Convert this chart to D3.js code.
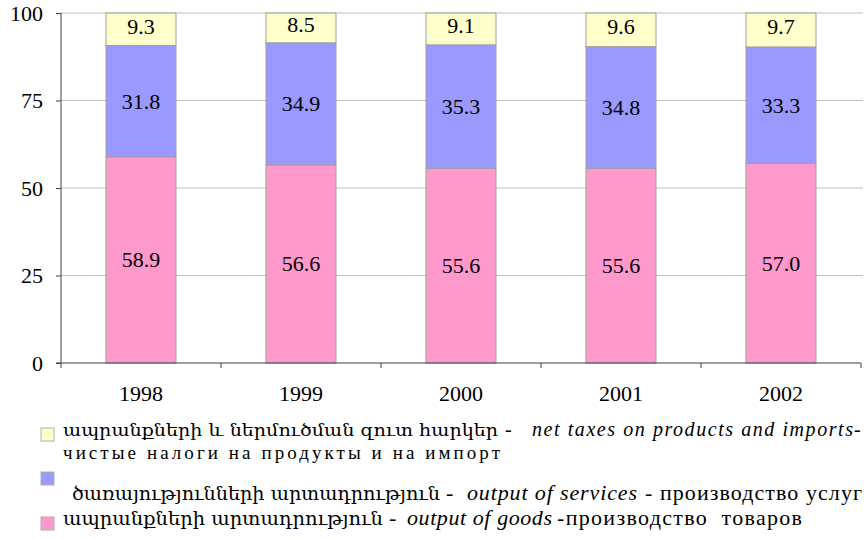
<!DOCTYPE html>
<html>
<head>
<meta charset="utf-8">
<script src="https://cdn.jsdelivr.net/npm/d3@7"></script>
<style>
  body { margin: 0; background: #fff; }
  svg text { font-family: "Liberation Serif", "Times New Roman", Times, "DejaVu Serif", serif; fill: #000; }
  svg text.arm { font-family: "DejaVu Serif", "Noto Sans", serif; }
</style>
</head>
<body>
<svg id="chart" width="866" height="539"></svg>
<script>
// chart data
const years = ["1998", "1999", "2000", "2001", "2002"];
const goods = [58.9, 56.6, 55.6, 55.6, 57.0];
const services = [31.8, 34.9, 35.3, 34.8, 33.3];
const taxes = [9.3, 8.5, 9.1, 9.6, 9.7];
const yTicks = [0, 25, 50, 75, 100];
const seriesKeys = ["goods", "services", "taxes"];
const seriesColors = ["#FF99CC", "#9999FF", "#FFFFCC"];

const svg = d3.select("#chart");
const plotL = 61, plotR = 861, plotT = 13, plotB = 363;

const rows = years.map((y, i) => ({year: y, goods: goods[i], services: services[i], taxes: taxes[i]}));
const stacked = d3.stack().keys(seriesKeys)(rows);

const x = d3.scaleBand().domain(years).range([plotL, plotR]).paddingInner(0.5625).paddingOuter(0.28125);
const y = d3.scaleLinear().domain([0, 100]).range([plotB, plotT]);

// gridlines
svg.append("g")
  .selectAll("line")
  .data(yTicks.filter(d => d > 0))
  .enter().append("line")
  .attr("x1", plotL).attr("x2", 863)
  .attr("y1", d => y(d)).attr("y2", d => y(d))
  .attr("stroke", "#c0c0c0").attr("stroke-width", 1);

// bars
const layer = svg.append("g").selectAll("g")
  .data(stacked)
  .enter().append("g")
  .attr("fill", (d, i) => seriesColors[i]);

layer.selectAll("rect")
  .data(d => d)
  .enter().append("rect")
  .attr("x", d => x(d.data.year))
  .attr("width", x.bandwidth())
  .attr("y", d => y(d[1]))
  .attr("height", d => y(d[0]) - y(d[1]))
  .attr("stroke", "#a0a0a0").attr("stroke-width", 1);

// value labels
layer.selectAll("text")
  .data(d => d.map(v => ({v: v, key: d.key})))
  .enter().append("text")
  .attr("x", d => x(d.v.data.year) + x.bandwidth() / 2)
  .attr("y", d => (y(d.v[0]) + y(d.v[1])) / 2 - (d.key === "taxes" ? 3 : 0))
  .attr("text-anchor", "middle")
  .attr("dominant-baseline", "central")
  .attr("font-size", 22)
  .text(d => d.v.data[d.key].toFixed(1));

// y axis
const yAxis = svg.append("g")
  .attr("transform", `translate(${plotL},0)`)
  .call(d3.axisLeft(y).tickValues(yTicks).tickSize(5).tickPadding(13));
yAxis.select(".domain").attr("stroke", "#404040").attr("d", `M0,${plotT}V${plotB}`);
yAxis.selectAll(".tick line").attr("stroke", "#404040");
yAxis.selectAll(".tick text").attr("font-size", 22);

// x axis
const xAxis = svg.append("g")
  .attr("transform", `translate(0,${plotB})`);
xAxis.append("line")
  .attr("x1", plotL - 5).attr("x2", plotR)
  .attr("y1", 0).attr("y2", 0)
  .attr("stroke", "#404040");
xAxis.selectAll("line.sep")
  .data(d3.range(years.length + 1))
  .enter().append("line")
  .attr("class", "sep")
  .attr("x1", i => plotL + i * x.step()).attr("x2", i => plotL + i * x.step())
  .attr("y1", 0).attr("y2", 5)
  .attr("stroke", "#404040");
xAxis.selectAll("text")
  .data(years)
  .enter().append("text")
  .attr("x", d => x(d) + x.bandwidth() / 2)
  .attr("y", 38)
  .attr("text-anchor", "middle")
  .attr("font-size", 22)
  .text(d => d);

// legend
const legend = svg.append("g");
const legendSq = [
  {y: 428, color: seriesColors[2]},
  {y: 472, color: seriesColors[1]},
  {y: 517, color: seriesColors[0]}
];
legend.selectAll("rect")
  .data(legendSq)
  .enter().append("rect")
  .attr("x", 41).attr("y", d => d.y)
  .attr("width", 13).attr("height", 13)
  .attr("fill", d => d.color)
  .attr("stroke", "#b0b0b0");

// legend text pieces: [text, x, baseline, width, style, size]
const legendParts = [
  ["ապրանքների և ներմուծման զուտ հարկեր", 63, 436, 435, "arm", 17],
  ["-", 505, 436, 7, "", 20],
  ["net taxes on products and imports", 532, 436, 321, "it", 20],
  ["-", 854, 436, 8, "", 20],
  ["чистые налоги на продукты и на импорт", 63, 459, 437, "", 19],
  ["ծառայությունների արտադրություն", 72, 500, 368, "arm", 18],
  ["-", 446, 500, 7, "", 22],
  ["output of services", 467, 500, 170, "it", 22],
  ["- производство услуг", 645, 500, 217, "", 22],
  ["ապրանքների արտադրություն", 63, 525, 320, "arm", 18],
  ["-", 389, 525, 7, "", 22],
  ["output of goods", 407, 525, 145, "it", 22],
  ["-производство  товаров", 557, 525, 245, "", 22]
];
legend.selectAll("text")
  .data(legendParts)
  .enter().append("text")
  .attr("class", d => d[4] === "arm" ? "arm" : null)
  .attr("x", d => d[1]).attr("y", d => d[2])
  .attr("font-size", d => d[5])
  .attr("font-style", d => d[4] === "it" ? "italic" : null)
  .attr("textLength", d => d[3])
  .attr("lengthAdjust", d => d[4] === "arm" ? "spacingAndGlyphs" : "spacing")
  .attr("xml:space", "preserve")
  .text(d => d[0]);
</script>
</body>
</html>
